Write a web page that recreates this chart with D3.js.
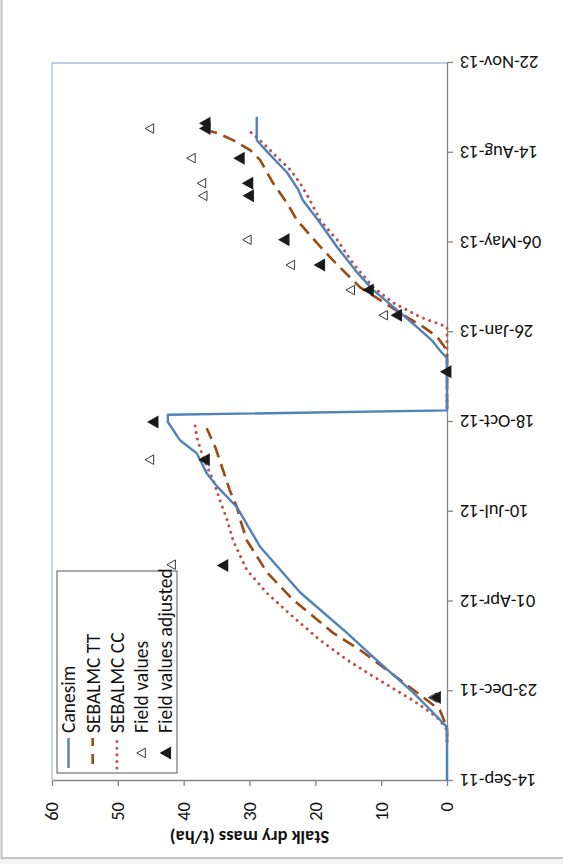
<!DOCTYPE html>
<html><head><meta charset="utf-8">
<script src="https://cdn.jsdelivr.net/npm/d3@7"></script>
<style>body{margin:0;background:#fff}svg{display:block}</style>
</head><body>
<svg id="chart" width="563" height="864"></svg>
<script>
// ---------- data ----------
const dateTicks = ["2011-09-14","2011-12-23","2012-04-01","2012-07-10","2012-10-18","2013-01-26","2013-05-06","2013-08-14","2013-11-22"];
const valueTicks = [0, 10, 20, 30, 40, 50, 60];
const seriesNames = ["Canesim", "SEBALMC TT", "SEBALMC CC", "Field values", "Field values adjusted"];
const axisTitle = "Stalk dry mass (t/ha)";

const canesimDates = ["2011-09-14","2011-11-13","2011-11-29","2011-12-22","2012-01-30","2012-02-26","2012-04-11","2012-06-01","2012-07-15","2012-08-07","2012-08-22","2012-09-13","2012-09-28","2012-10-18","2012-10-26","2012-10-31","2012-12-28","2013-01-06","2013-01-17","2013-02-01","2013-02-20","2013-03-14","2013-04-03","2013-05-01","2013-05-31","2013-06-22","2013-07-04","2013-07-23","2013-08-15","2013-08-28","2013-09-23"];
const canesimValues = [0,0,2.1,5.2,11.2,15.2,22.3,28.4,31.9,34.9,36.5,38.0,40.6,42.4,42.4,0,0,1.1,2.3,4.6,7.6,11.2,13.7,16.7,19.6,21.9,22.6,24.3,27.3,28.9,28.9];

const ttDates1 = ["2011-10-28","2011-11-13","2011-12-02","2011-12-19","2011-12-30","2012-02-07","2012-02-26","2012-04-03","2012-05-03","2012-06-08","2012-07-01","2012-07-15","2012-08-03","2012-08-25","2012-09-20","2012-10-11"];
const ttValues1 = [0,0,1.1,4.1,6.1,13.2,17.3,23.4,27.3,30.4,31.4,31.9,33.0,34.0,35.2,36.5];
const ttDates2 = ["2012-11-03","2013-01-06","2013-01-21","2013-02-01","2013-02-12","2013-03-03","2013-03-17","2013-04-16","2013-05-05","2013-05-31","2013-06-19","2013-07-11","2013-08-06","2013-08-17","2013-08-28","2013-09-05","2013-09-08"];
const ttValues2 = [0,0,1.5,3.6,6.1,10.2,13.2,17.3,19.7,22.8,24.3,26.4,28.4,29.9,32.5,34.9,36.5];

const ccDates1 = ["2011-10-28","2011-11-10","2011-11-24","2011-12-13","2012-01-04","2012-01-27","2012-02-18","2012-03-15","2012-04-10","2012-05-06","2012-06-08","2012-07-01","2012-07-23","2012-08-14","2012-09-09","2012-10-01","2012-10-15"];
const ccValues1 = [0,0,1.5,5.2,10.2,15.2,19.3,23.4,27.3,30.4,32.5,33.4,34.5,35.5,37.1,38.0,38.3];
const ccDates2 = ["2012-11-03","2013-02-01","2013-02-05","2013-02-12","2013-02-28","2013-03-17","2013-04-13","2013-05-09","2013-05-31","2013-06-22","2013-07-11","2013-07-26","2013-08-09","2013-08-20","2013-08-31","2013-09-08"];
const ccValues2 = [0,0,1.5,4.1,8.2,11.2,14.3,16.7,19.3,20.8,22.3,23.8,25.8,27.3,28.9,30.2];

const fieldDates = ["2011-12-16","2012-05-12","2012-09-06","2012-12-13","2013-02-14","2013-03-14","2013-04-11","2013-05-09","2013-06-27","2013-07-11","2013-08-08","2013-09-10"];
const fieldValues = [2.2,41.9,45.2,0.2,9.7,14.7,23.8,30.4,37.1,37.3,38.9,45.2];

const adjDates = ["2011-12-16","2012-05-11","2012-09-06","2012-10-18","2012-12-13","2013-02-14","2013-03-14","2013-04-11","2013-05-09","2013-06-27","2013-07-11","2013-08-08","2013-09-10","2013-09-16"];
const adjValues = [1.8,34.1,36.9,44.7,0.2,7.7,12.0,19.4,24.8,30.2,30.3,31.6,36.8,36.8];

// ---------- setup ----------
const parse = d3.utcParse("%Y-%m-%d");
const fmt = d3.utcFormat("%d-%b-%y");
const zip = (ds, vs) => ds.map((d, i) => ({date: parse(d), value: vs[i]}));

const FONT = "Carlito, Calibri, Lato, 'Open Sans', sans-serif";
const COL = {canesim: "#4F81BD", tt: "#9C4A12", cc: "#C0504D", axis: "#868686", frame: "#A7BFDE"};

const svg = d3.select("#chart");
svg.append("rect").attr("x", 0).attr("y", 0).attr("width", 563).attr("height", 864).attr("fill", "#fff");
svg.append("rect").attr("x", 0).attr("y", 859).attr("width", 563).attr("height", 5).attr("fill", "#f3f3f3");
// outer chart border (only left and bottom visible)
svg.append("rect").attr("x", 1.5).attr("y", -10).attr("width", 600).attr("height", 868)
  .attr("fill", "none").attr("stroke", "#c4c4c4").attr("stroke-width", 2);

// Whole chart is drawn in its own frame and turned 90° counter-clockwise
const g = svg.append("g").attr("transform", "translate(0,864) rotate(-90)");

const x = d3.scaleUtc().domain([parse(dateTicks[0]), parse(dateTicks[dateTicks.length - 1])]).range([83, 801]);
const y = d3.scaleLinear().domain([0, 60]).range([447, 52]);

// plot area frame
g.append("path").attr("d", `M${x.range()[0]},${y(60)}H${x.range()[1]}V${y(0)}`)
  .attr("fill", "none").attr("stroke", COL.frame).attr("stroke-width", 1.3);

// x (date) axis
const xAxis = g.append("g").attr("transform", `translate(0,${y(0)})`)
  .call(d3.axisBottom(x).tickValues(dateTicks.map(parse)).tickFormat(fmt).tickSize(6).tickSizeOuter(0));
xAxis.select(".domain").attr("stroke", COL.axis).attr("stroke-width", 1.3);
xAxis.selectAll(".tick line").attr("stroke", COL.axis).attr("stroke-width", 1.3);
xAxis.selectAll(".tick text")
  .attr("transform", "rotate(-90)").attr("text-anchor", "end")
  .attr("x", -13).attr("y", 0).attr("dy", "0.35em")
  .attr("font-family", FONT).attr("font-size", 18.5).attr("fill", "#111");

// y (value) axis
const yAxis = g.append("g").attr("transform", `translate(${x.range()[0]},0)`)
  .call(d3.axisLeft(y).tickValues(valueTicks).tickSize(5).tickPadding(16).tickSizeOuter(0));
yAxis.select(".domain").attr("stroke", COL.axis).attr("stroke-width", 1.3);
yAxis.selectAll(".tick line").attr("stroke", COL.axis).attr("stroke-width", 1.3);
yAxis.selectAll(".tick text").attr("font-family", FONT).attr("font-size", 18.5).attr("fill", "#111");

// axis title
g.append("text").attr("transform", `translate(27,${(y(0) + y(60)) / 2}) rotate(-90)`)
  .attr("text-anchor", "middle").attr("dy", "0.35em")
  .attr("font-family", FONT).attr("font-size", 18.5).attr("font-weight", "bold").attr("fill", "#111")
  .text(axisTitle);

// lines
const line = d3.line().x(d => x(d.date)).y(d => y(d.value));
const lineSeries = [
  {data: zip(canesimDates, canesimValues), color: COL.canesim, width: 2.4, dash: null, cap: "butt"},
  {data: zip(ttDates1, ttValues1), color: COL.tt, width: 2.6, dash: "13,7", cap: "butt"},
  {data: zip(ttDates2, ttValues2), color: COL.tt, width: 2.6, dash: "13,7", cap: "butt"},
  {data: zip(ccDates1, ccValues1), color: COL.cc, width: 3, dash: "0.01,6.6", cap: "round"},
  {data: zip(ccDates2, ccValues2), color: COL.cc, width: 3, dash: "0.01,6.6", cap: "round"}
];
[3, 4, 1, 2, 0].forEach(i => {
  const s = lineSeries[i];
  g.append("path").datum(s.data).attr("d", line)
    .attr("fill", "none").attr("stroke", s.color).attr("stroke-width", s.width)
    .attr("stroke-dasharray", s.dash).attr("stroke-linecap", s.cap).attr("stroke-linejoin", "round");
});

// triangle markers (pointing up in the chart's own frame)
const tri = (b, h) => `M0,${-h / 2}L${b / 2},${h / 2}L${-b / 2},${h / 2}Z`;
const openTri = tri(9.5, 8.5), fillTri = tri(13, 11.5);

g.append("g").selectAll("path").data(zip(fieldDates, fieldValues)).join("path")
  .attr("transform", d => `translate(${x(d.date)},${y(d.value)})`)
  .attr("d", openTri).attr("fill", "#fff").attr("stroke", "#222").attr("stroke-width", 0.9);
g.append("g").selectAll("path").data(zip(adjDates, adjValues)).join("path")
  .attr("transform", d => `translate(${x(d.date)},${y(d.value)})`)
  .attr("d", fillTri).attr("fill", "#1a1a1a");

// legend
const lg = g.append("g");
lg.append("rect").attr("x", 91).attr("y", 57).attr("width", 202).attr("height", 120)
  .attr("fill", "#fff").attr("stroke", "#555").attr("stroke-width", 1);
seriesNames.forEach((name, i) => {
  const cy = 68.5 + i * 24.2;
  if (i < 3) {
    const s = lineSeries[i === 0 ? 0 : i === 1 ? 1 : 3];
    lg.append("line").attr("x1", 96).attr("x2", 126).attr("y1", cy).attr("y2", cy)
      .attr("stroke", s.color).attr("stroke-width", s.width)
      .attr("stroke-dasharray", i === 1 ? "10,8" : s.dash).attr("stroke-linecap", s.cap)
      .attr("stroke-dashoffset", i === 1 ? -4 : 0);
  } else if (i === 3) {
    lg.append("path").attr("transform", `translate(111,${cy})`).attr("d", openTri)
      .attr("fill", "#fff").attr("stroke", "#222").attr("stroke-width", 0.9);
  } else {
    lg.append("path").attr("transform", `translate(111,${cy})`).attr("d", fillTri).attr("fill", "#1a1a1a");
  }
  lg.append("text").attr("x", 131).attr("y", cy).attr("dy", "0.35em")
    .attr("font-family", FONT).attr("font-size", 19.5).attr("fill", "#111").text(name);
});
</script>
</body></html>
